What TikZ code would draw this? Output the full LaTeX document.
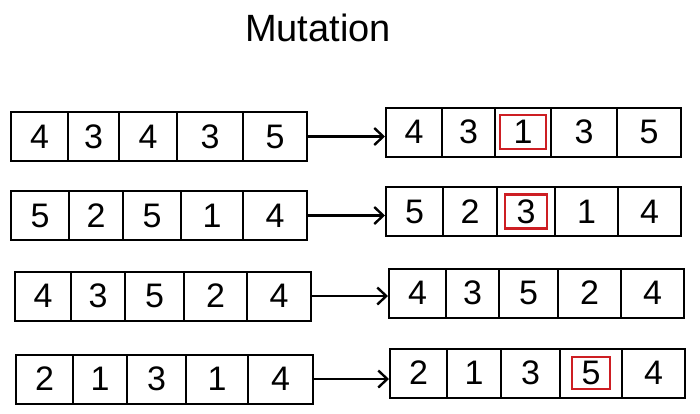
\documentclass[tikz,border=0pt]{standalone}
\usepackage{fontspec}
\setmainfont{Liberation Sans}
\usepackage{xcolor}
\usepackage{tikz}
\usetikzlibrary{arrows.meta}
\usetikzlibrary{positioning}
\definecolor{mutred}{RGB}{205,30,35}

\begin{document}
\begin{tikzpicture}[
	x=1pt, y=-1pt,
	line width=2pt,
	font=\fontsize{34}{38}\selectfont
]
\tikzset{
    cell/.style = {rectangle, draw=black, align=center, anchor=west, inner sep=0pt, minimum height=49pt},
    redbox/.style = {rectangle, draw=mutred, line width=2.4pt, inner sep=0pt, minimum width=42pt, minimum height=34pt},
    arrow/.style = {line width=2.4pt, -{Straight Barb[length=9pt,width=17pt]}}
}
\useasboundingbox (0,0) rectangle (700,413);
\node[font=\fontsize{38}{42}\selectfont] (title) at (318,28) {Mutation};
% parents
\node[cell,minimum width=57pt] (p11) at (10,136.5) {4};
\node[cell,minimum width=51pt] (p12) at (67,136.5) {3};
\node[cell,minimum width=58pt] (p13) at (118,136.5) {4};
\node[cell,minimum width=66pt] (p14) at (176,136.5) {3};
\node[cell,minimum width=64pt] (p15) at (242,136.5) {5};
\node[cell,minimum width=58pt] (p21) at (10,215.5) {5};
\node[cell,minimum width=54pt] (p22) at (68,215.5) {2};
\node[cell,minimum width=58pt] (p23) at (122,215.5) {5};
\node[cell,minimum width=62pt] (p24) at (180,215.5) {1};
\node[cell,minimum width=64pt] (p25) at (242,215.5) {4};
\node[cell,minimum width=56pt] (p31) at (14,296) {4};
\node[cell,minimum width=54pt] (p32) at (70,296) {3};
\node[cell,minimum width=59pt] (p33) at (124,296) {5};
\node[cell,minimum width=63pt] (p34) at (183,296) {2};
\node[cell,minimum width=64pt] (p35) at (246,296) {4};
\node[cell,minimum width=57pt] (p41) at (15,379) {2};
\node[cell,minimum width=54pt] (p42) at (72,379) {1};
\node[cell,minimum width=59pt] (p43) at (126,379) {3};
\node[cell,minimum width=62pt] (p44) at (185,379) {1};
\node[cell,minimum width=65pt] (p45) at (247,379) {4};
% children
\node[cell,minimum width=56pt] (c11) at (385,132) {4};
\node[cell,minimum width=53pt] (c12) at (441,132) {3};
\node[cell,minimum width=56pt] (c13) at (494,132) {1};
\node[cell,minimum width=66pt] (c14) at (550,132) {3};
\node[cell,minimum width=64pt] (c15) at (616,132) {5};
\node[cell,minimum width=57pt] (c21) at (385,211.5) {5};
\node[cell,minimum width=54pt] (c22) at (442,211.5) {2};
\node[cell,minimum width=58pt] (c23) at (496,211.5) {3};
\node[cell,minimum width=63pt] (c24) at (554,211.5) {1};
\node[cell,minimum width=63pt] (c25) at (617,211.5) {4};
\node[cell,minimum width=57pt] (c31) at (388,293) {4};
\node[cell,minimum width=53pt] (c32) at (445,293) {3};
\node[cell,minimum width=59pt] (c33) at (498,293) {5};
\node[cell,minimum width=63pt] (c34) at (557,293) {2};
\node[cell,minimum width=63pt] (c35) at (620,293) {4};
\node[cell,minimum width=57pt] (c41) at (389,373) {2};
\node[cell,minimum width=54pt] (c42) at (446,373) {1};
\node[cell,minimum width=59pt] (c43) at (500,373) {3};
\node[cell,minimum width=62pt] (c44) at (559,373) {5};
\node[cell,minimum width=63pt] (c45) at (621,373) {4};
% mutated genes
\node[redbox,minimum width=46pt] (m1) at (c13) {};
\node[redbox] (m2) at (c23) {};
\node[redbox,minimum width=38pt,minimum height=32pt] (m4) at (c44) {};
% arrows
\draw[arrow] (p15.east) -- (p15.east -| c11.west);
\draw[arrow] (p25.east) -- (p25.east -| c21.west);
\draw[arrow] (p35.east) -- (p35.east -| c31.west);
\draw[arrow] (p45.east) -- (p45.east -| c41.west);
\end{tikzpicture}
\end{document}
